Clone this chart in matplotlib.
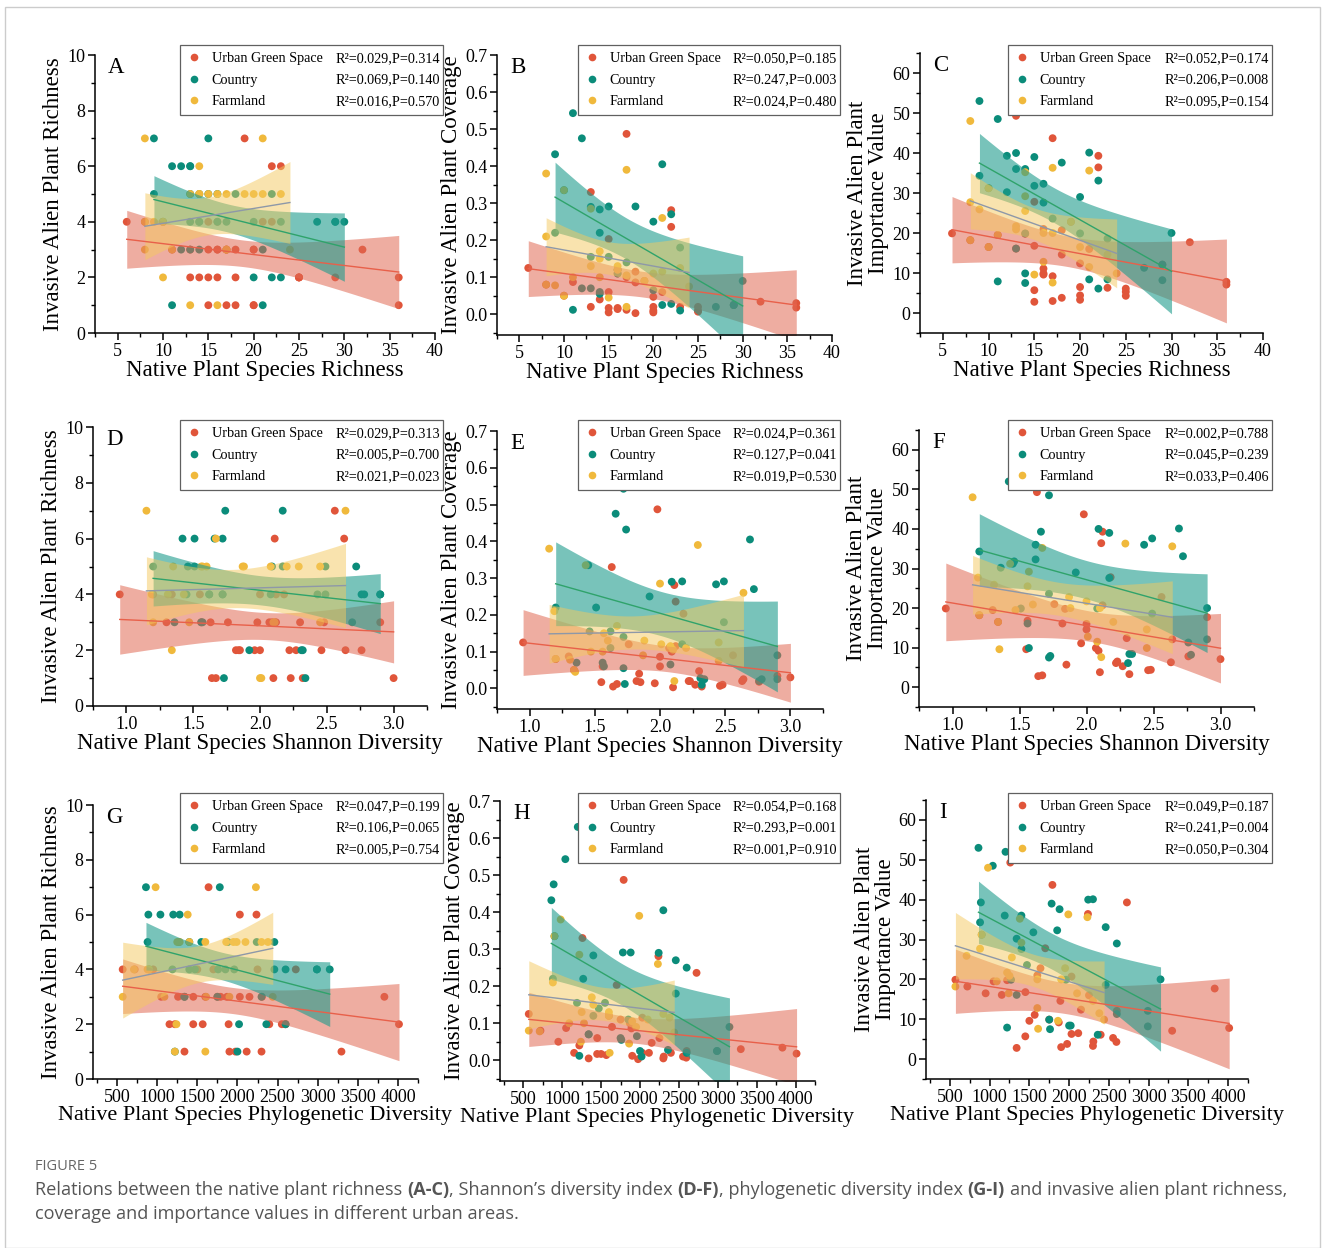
import numpy as np
import matplotlib.pyplot as plt
from matplotlib.lines import Line2D
from matplotlib.patches import Rectangle
from matplotlib.ticker import MultipleLocator

plt.rcParams['font.family'] = 'Liberation Serif'

# ---- site data (one value per sampled site) ----
# Urban Green Space
urban_rich = [6, 8, 10, 11, 13, 13, 14, 15, 15, 15, 15, 16, 16, 16, 16, 17, 17, 17, 18,
              18, 18, 19, 20, 20, 20, 20, 21, 22, 22, 23, 25, 25, 25, 29, 32, 36, 36]
urban_shannon = [0.95, 1.20, 1.34, 1.30, 1.63, 1.82, 1.84, 1.56, 1.85, 1.64, 2.18, 1.76, 1.96,
                 2.07, 1.55, 1.98, 2.09, 1.67, 2.12, 2.00, 2.10, 2.56, 2.30, 2.23, 2.48, 2.32,
                 2.00, 2.12, 2.11, 2.63, 2.22, 2.27, 2.46, 2.64, 2.90, 2.76, 3.00]
urban_pd = [570, 720, 950, 1050, 1260, 1153, 1220, 1450, 1449, 1340, 1700, 1600, 1567, 1750,
            1500, 1790, 1870, 1900, 2030, 1890, 1975, 1640, 2150, 2115, 2305, 2300, 2250, 2727,
            2237, 2030, 2397, 2553, 2595, 2600, 3831, 4013, 3296]
urban_inv = [4, 4, 4, 3, 3, 2, 2, 3, 2, 1, 4, 3, 2, 3, 4, 3, 3, 1, 3, 2, 1, 7, 3, 1, 3, 1,
             4, 4, 6, 6, 2, 2, 2, 2, 3, 2, 1]
urban_cov = [0.125, 0.080, 0.050, 0.087, 0.330, 0.020, 0.040, 0.060, 0.017, 0.005, 0.203,
             0.120, 0.014, 0.110, 0.017, 0.487, 0.100, 0.012, 0.115, 0.086, 0.003, 0.090,
             0.047, 0.020, 0.010, 0.005, 0.060, 0.236, 0.281, 0.020, 0.020, 0.010, 0.007,
             0.025, 0.034, 0.018, 0.030]
urban_iv = [19.9, 18.2, 16.5, 19.5, 49.3, 16.1, 19.8, 16.8, 5.7, 2.8, 27.8, 21.0, 11.1, 9.9,
            9.6, 43.7, 9.2, 3.0, 20.7, 14.6, 3.8, 22.8, 12.4, 6.5, 4.4, 3.3, 16.0, 39.3, 36.4,
            6.3, 6.1, 5.3, 4.3, 12.1, 17.7, 7.8, 7.1]

# Country
country_rich = [9, 9, 10, 11, 11, 12, 12, 13, 13, 13, 13, 13, 14, 14, 14, 14, 15, 15, 16, 16,
                17, 18, 20, 20, 21, 21, 22, 22, 23, 23, 27, 29, 29, 30]
country_shannon = [1.74, 1.20, 1.45, 1.72, 1.73, 1.66, 1.36, 1.42, 1.51, 2.09, 1.62, 1.56, 2.43,
                   1.57, 1.72, 1.51, 2.17, 1.46, 1.62, 2.17, 1.72, 2.49, 2.08, 1.92, 2.69, 2.34,
                   2.72, 2.31, 2.32, 2.49, 2.76, 2.90, 2.78, 2.90]
country_pd = [860, 880, 900, 1040, 1220, 890, 1340, 1200, 1280, 2240, 1190, 1340, 1400, 1750,
              1760, 1270, 1780, 1550, 1850, 1400, 1470, 1880, 1960, 2600, 2300, 2000, 2460, 2360,
              2020, 2460, 2600, 2990, 2990, 3150]
country_inv = [7, 5, 4, 6, 1, 6, 3, 6, 6, 5, 4, 3, 4, 3, 4, 5, 7, 5, 4, 5, 4, 5, 4, 2, 3, 1,
               5, 2, 2, 4, 4, 4, 4, 4]
country_cov = [0.432, 0.220, 0.335, 0.543, 0.012, 0.475, 0.070, 0.630, 0.585, 0.290, 0.155,
               0.070, 0.283, 0.060, 0.055, 0.220, 0.291, 0.155, 0.110, 0.120, 0.140, 0.291,
               0.065, 0.250, 0.405, 0.025, 0.270, 0.028, 0.010, 0.180, 0.020, 0.025, 0.025, 0.090]
country_iv = [53.0, 34.3, 31.2, 48.5, 7.9, 39.3, 30.2, 52.0, 53.5, 40.0, 36.0, 16.1, 36.0, 9.9,
              7.5, 19.9, 39.0, 31.8, 32.3, 27.6, 23.6, 37.6, 19.9, 29.0, 40.1, 8.4, 33.1, 6.1,
              8.4, 18.6, 11.3, 12.1, 8.2, 20.0]

# Farmland
farm_rich = [8, 8, 8, 9, 10, 10, 11, 13, 13, 14, 14, 14, 15, 16, 16, 17, 17, 17, 19, 20, 21,
             21, 23, 24]
farm_shannon = [1.15, 1.19, 1.20, 1.31, 1.43, 1.34, 1.47, 2.00, 1.60, 1.67, 1.57, 1.56, 1.35,
                2.01, 1.88, 2.29, 2.11, 2.10, 1.87, 2.20, 2.64, 2.08, 2.45, 2.45]
farm_pd = [980, 880, 570, 710, 900, 1240, 1090, 1220, 1250, 1380, 1400, 1280, 1860, 1600, 1600,
           1990, 1610, 1900, 1950, 2100, 2230, 2380, 2300, 2440]
farm_inv = [7, 4, 3, 4, 4, 2, 3, 1, 5, 6, 5, 5, 5, 1, 5, 5, 3, 3, 5, 5, 7, 5, 5, 3]
farm_cov = [0.380, 0.210, 0.080, 0.078, 0.335, 0.050, 0.100, 0.285, 0.130, 0.170, 0.150, 0.100,
            0.045, 0.120, 0.130, 0.390, 0.020, 0.105, 0.090, 0.110, 0.260, 0.115, 0.125, 0.075]
farm_iv = [48.0, 27.7, 18.2, 25.9, 31.2, 16.5, 19.5, 21.7, 20.9, 35.2, 29.2, 25.5, 9.6, 12.8,
           20.0, 36.3, 7.6, 20.0, 22.8, 16.5, 35.6, 11.5, 14.6, 9.9]

group_names = ['Urban Green Space', 'Country', 'Farmland']
panel_letters = ['A', 'B', 'C', 'D', 'E', 'F', 'G', 'H', 'I']
stats = [
    ['0.029,P=0.314', '0.069,P=0.140', '0.016,P=0.570'],
    ['0.050,P=0.185', '0.247,P=0.003', '0.024,P=0.480'],
    ['0.052,P=0.174', '0.206,P=0.008', '0.095,P=0.154'],
    ['0.029,P=0.313', '0.005,P=0.700', '0.021,P=0.023'],
    ['0.024,P=0.361', '0.127,P=0.041', '0.019,P=0.530'],
    ['0.002,P=0.788', '0.045,P=0.239', '0.033,P=0.406'],
    ['0.047,P=0.199', '0.106,P=0.065', '0.005,P=0.754'],
    ['0.054,P=0.168', '0.293,P=0.001', '0.001,P=0.910'],
    ['0.049,P=0.187', '0.241,P=0.004', '0.050,P=0.304'],
]
x_labels = ['Native Plant Species Richness', 'Native Plant Species Shannon Diversity',
            'Native Plant Species Phylogenetic Diversity']
x_label_sizes = [16.5, 16.5, 16]
y_labels = ['Invasive Alien Plant Richness', 'Invasive Alien Plant Coverage',
            'Invasive Alien Plant\nImportance Value']

x_data = [[urban_rich, country_rich, farm_rich],
          [urban_shannon, country_shannon, farm_shannon],
          [urban_pd, country_pd, farm_pd]]
y_data = [[urban_inv, country_inv, farm_inv],
          [urban_cov, country_cov, farm_cov],
          [urban_iv, country_iv, farm_iv]]

# ---- styling ----
point_colors = ['#E0553A', '#0B8C7A', '#F0B93C']
band_colors = ['#E06A55', '#1E9C8C', '#F4C95E']
band_alpha = [0.55, 0.6, 0.5]
line_colors = ['#E8604A', '#2FA36B', '#8E98A8']

xlims = [(2.5, 40), (0.75, 3.25), (200, 4250)]
xmajor = [5, 0.5, 500]
xfmt = ['{:.0f}', '{:.1f}', '{:.0f}']
ylims = [(0, 10), (-0.056, 0.7), (-5, 65)]
ymajor = [2, 0.1, 10]
yfmt = ['{:.0f}', '{:.1f}', '{:.0f}']
xticks = [np.arange(5, 41, 5), np.arange(1.0, 3.01, 0.5), np.arange(500, 4001, 500)]
yticks = [np.arange(0, 11, 2), np.arange(0, 0.71, 0.1), np.arange(0, 61, 10)]

W, H = 1328, 1248
fig = plt.figure(figsize=(W / 100, H / 100), dpi=100)

# axes boxes in pixels: left, top, right, bottom
boxes = [(95, 55, 435, 333), (497, 55, 832, 335), (920, 53, 1263, 333),
         (93, 427, 427, 706), (497, 431, 823, 709), (919, 430, 1254, 707),
         (93, 805, 418, 1079), (500, 801, 815, 1081), (926, 800, 1248, 1079)]
legend_x = [(180, 443), (578, 840), (1008, 1272)]
legend_top = [45, 420, 793]


def t975(df):
    z = 1.959964
    return z + (z ** 3 + z) / (4 * df) + (5 * z ** 5 + 16 * z ** 3 + 3 * z) / (96 * df ** 2)


def fit_band(x, y):
    x = np.asarray(x, float)
    y = np.asarray(y, float)
    b1, b0 = np.polyfit(x, y, 1)
    xs = np.linspace(x.min(), x.max(), 120)
    yhat = b0 + b1 * xs
    n = len(x)
    s = np.sqrt(np.sum((y - (b0 + b1 * x)) ** 2) / (n - 2))
    se = s * np.sqrt(1 / n + (xs - x.mean()) ** 2 / np.sum((x - x.mean()) ** 2))
    h = t975(n - 2) * se
    return xs, yhat, yhat - h, yhat + h


legends = []
for row in range(3):
    for col in range(3):
        k = row * 3 + col
        l, t, r, b = boxes[k]
        ax = fig.add_axes([l / W, 1 - b / H, (r - l) / W, (b - t) / H])
        for g in range(3):
            ax.scatter(x_data[row][g], y_data[col][g], s=32, color=point_colors[g],
                       edgecolors='none', zorder=1)
        for g in range(3):
            xs, yhat, lo, hi = fit_band(x_data[row][g], y_data[col][g])
            ax.fill_between(xs, lo, hi, color=band_colors[g], alpha=band_alpha[g],
                            linewidth=0, zorder=2)
            ax.plot(xs, yhat, color=line_colors[g], lw=1.0, zorder=3)

        ax.set_xlim(*xlims[row])
        ax.set_ylim(*ylims[col])
        ax.set_xticks(xticks[row])
        ax.set_xticklabels([xfmt[row].format(v) for v in xticks[row]])
        ax.set_yticks(yticks[col])
        ax.set_yticklabels([yfmt[col].format(v) for v in yticks[col]])
        ax.xaxis.set_minor_locator(MultipleLocator(xmajor[row] / 2))
        ax.yaxis.set_minor_locator(MultipleLocator(ymajor[col] / 2))
        ax.tick_params(which='major', direction='out', length=5, width=1.1, labelsize=13,
                       pad=2)
        ax.tick_params(which='minor', direction='out', length=3, width=1.0)
        for side in ['top', 'right']:
            ax.spines[side].set_visible(False)
        for side in ['left', 'bottom']:
            ax.spines[side].set_linewidth(1.1)
        ax.set_xlabel(x_labels[row], fontsize=x_label_sizes[row], labelpad=0)
        ax.set_ylabel(y_labels[col], fontsize=16.5, labelpad=2, linespacing=1.0)
        ax.annotate(panel_letters[k], xy=(0, 1), xycoords='axes fraction',
                    xytext=(13, -2), textcoords='offset pixels', fontsize=16.5,
                    ha='left', va='top')

        handles = [Line2D([], [], ls='none', marker='o', markersize=5.5,
                          markerfacecolor=point_colors[g], markeredgecolor='none')
                   for g in range(3)]
        lx0, lx1 = legend_x[col]
        ltop = legend_top[row]
        leg = ax.legend(handles, group_names, loc='upper left',
                        bbox_to_anchor=(lx0 / W, 1 - ltop / H, (lx1 - lx0) / W, 0),
                        bbox_transform=fig.transFigure, mode='expand', borderaxespad=0,
                        fontsize=10.2, frameon=True, fancybox=False, framealpha=1,
                        edgecolor='#606060', handlelength=1.0, handletextpad=0.75,
                        labelspacing=0.6, borderpad=0.5)
        leg.get_frame().set_linewidth(0.9)
        leg.set_zorder(5)
        legends.append((ax, leg, stats[k]))

fig.canvas.draw()
for ax, leg, st in legends:
    frame = leg.get_frame().get_window_extent()
    for txt, s in zip(leg.get_texts(), st):
        xd, yd = txt.get_transform().transform(txt.get_position())
        fig.text((frame.x1 - 3) / W, yd / H, 'R\u00b2=' + s, fontsize=10.2, ha='right',
                 va=txt.get_verticalalignment(), zorder=10)

# caption
cap_color = '#555555'
cap_size = 13.05
fig.text(35 / W, 1 - 1166 / H, 'FIGURE 5', fontsize=10.5, family='Open Sans', color='#666666',
         va='center')

renderer = fig.canvas.get_renderer()
probe_a = fig.text(0, 0, 'x x', fontsize=cap_size, family='Open Sans')
probe_b = fig.text(0, 0, 'xx', fontsize=cap_size, family='Open Sans')
space_w = probe_a.get_window_extent(renderer).width - probe_b.get_window_extent(renderer).width
probe_a.remove()
probe_b.remove()

line1 = [('Relations between the native plant richness', False, True),
         ('(A-C)', True, False),
         (', Shannon\u2019s diversity index', False, True),
         ('(D-F)', True, False),
         (', phylogenetic diversity index', False, True),
         ('(G-I)', True, True),
         ('and invasive alien plant richness,', False, False)]
x = 35
for seg, bold, space in line1:
    tt = fig.text(x / W, 1 - 1190 / H, seg, fontsize=cap_size, family='Open Sans',
                  color=cap_color, fontweight='bold' if bold else 'normal', va='center')
    x = tt.get_window_extent(renderer).x1 + (space_w if space else 0)
fig.text(35 / W, 1 - 1214 / H, 'coverage and importance values in different urban areas.',
         fontsize=cap_size, family='Open Sans', color=cap_color, va='center')

# outer frame
fig.patches.append(Rectangle((5 / W, 0), (1320 - 5) / W, 1 - 7 / H, transform=fig.transFigure,
                             fill=False, edgecolor='#cccccc', linewidth=1.0))

fig.savefig('out.png', dpi=100)
